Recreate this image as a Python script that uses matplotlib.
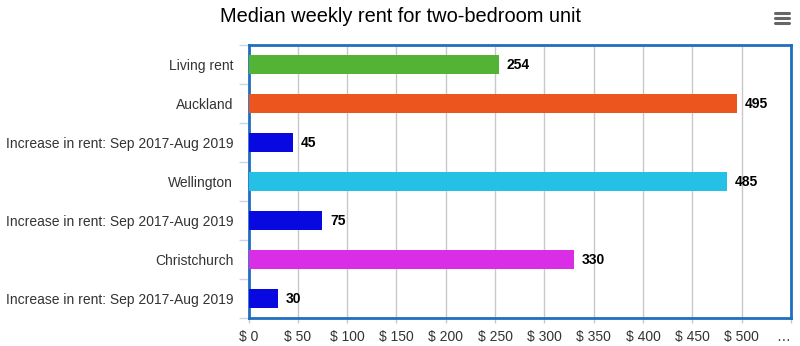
import matplotlib
matplotlib.use("Agg")
import matplotlib.pyplot as plt
import matplotlib.transforms as mtransforms
from matplotlib.lines import Line2D
import numpy as np

plt.rcParams['font.family'] = ['Liberation Sans', 'DejaVu Sans']

categories = [
    "Living rent",
    "Auckland",
    "Increase in rent: Sep 2017-Aug 2019",
    "Wellington",
    "Increase in rent: Sep 2017-Aug 2019",
    "Christchurch",
    "Increase in rent: Sep 2017-Aug 2019",
]
values = [254, 495, 45, 485, 75, 330, 30]
colors = ["#52b335", "#ec561e", "#0808e0", "#24c0e5", "#0808e0", "#d92ee6", "#0808e0"]
tick_values = list(range(0, 551, 50))
tick_labels = [f"$ {v}" for v in tick_values[:-1]] + ["…"]

fig = plt.figure(figsize=(8.0, 3.46), dpi=100)
W, H = 800, 346
left, right, top, bottom = 248.5, 791, 45, 318
ax = fig.add_axes([left / W, 1 - bottom / H, (right - left) / W, (bottom - top) / H])

y = np.arange(len(categories))
ax.barh(y, values, height=0.47, color=colors, zorder=3)
for yi, v in zip(y, values):
    ax.annotate(str(v), (v, yi), xytext=(5.5, 0), textcoords="offset points",
                va="center", ha="left", fontsize=10, fontweight="bold",
                color="#000000", zorder=4)

ax.set_ylim(len(categories) - 0.5, -0.5)
ax.set_xlim(0, 550)
ax.set_yticks(y)
ax.set_yticklabels(categories, fontsize=10, color="#333333")
ax.tick_params(axis="y", length=0, pad=11)
ax.set_yticks(np.arange(-0.5, len(categories), 1.0), minor=True)
ax.tick_params(axis="y", which="minor", length=7.5, color="#ccd6eb", width=1)

ax.set_xticks(tick_values)
ax.set_xticklabels(tick_labels, fontsize=10, color="#333333")
ax.tick_params(axis="x", length=3.5, color="#c8c8c8", width=1, pad=5)
ax.grid(axis="x", color="#c8c8c8", linewidth=1, zorder=0)

# the truncated last label sits a little inside the plot edge
last = ax.get_xticklabels()[-1]
last.set_transform(last.get_transform() +
                   mtransforms.ScaledTranslation(-8 / 100, 0, fig.dpi_scale_trans))

for side in ["top", "bottom", "left", "right"]:
    ax.spines[side].set_color("#1f6fbf")
    ax.spines[side].set_linewidth(2)

fig.text(0.5, 1 - 17 / H, "Median weekly rent for two-bedroom unit",
         ha="center", va="center", fontsize=14.4, color="#000000")

# context-menu icon
for dy in (13, 18, 23):
    fig.add_artist(Line2D([775 / W, 789 / W], [1 - dy / H, 1 - dy / H],
                          color="#666666", linewidth=2.2, solid_capstyle="round"))

fig.savefig("out.png", dpi=100, facecolor="white")
